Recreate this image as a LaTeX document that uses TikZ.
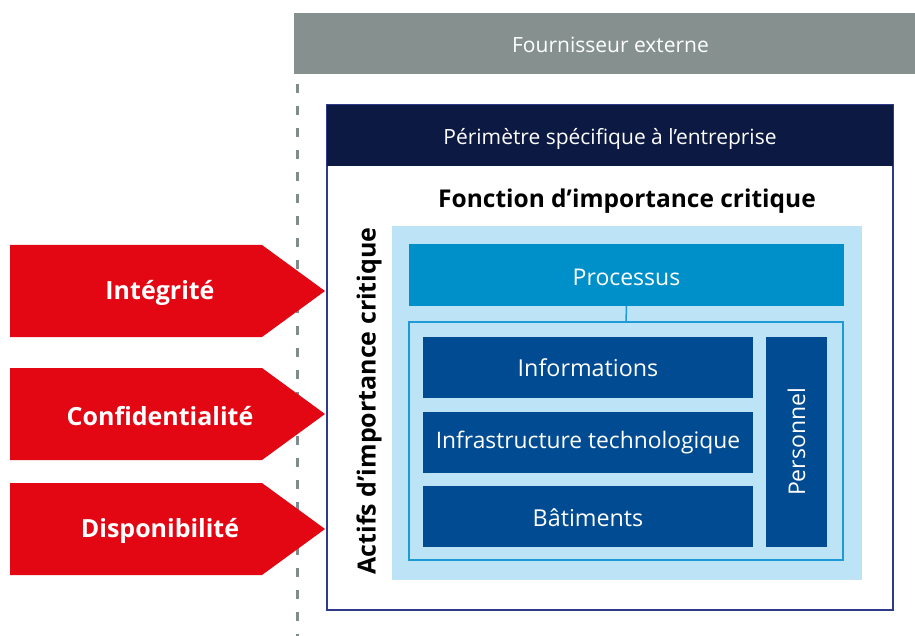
\documentclass[tikz,border=0pt]{standalone}
\usepackage{fontspec}
\setmainfont{Open Sans}
\definecolor{greybar}{HTML}{86918F}
\definecolor{navy}{HTML}{0C1943}
\definecolor{navyline}{HTML}{2E3A8C}
\definecolor{lightblue}{HTML}{BDE3F7}
\definecolor{procblue}{HTML}{0090C9}
\definecolor{outlineblue}{HTML}{1E9BD7}
\definecolor{darkblue}{HTML}{004B91}
\definecolor{redarrow}{HTML}{E30613}
\definecolor{dashgrey}{HTML}{7F8C8A}
\tikzset{
  boxbase/.style={rectangle, inner sep=0pt, outer sep=0pt, anchor=north west},
  filledbox/.style={boxbase, fill=#1, text=white, font=\fontsize{21}{25}\selectfont},
  assetbox/.style={filledbox=darkblue, minimum width=330pt, minimum height=61pt, font=\fontsize{23.3}{28}\selectfont},
  arrowlabel/.style={text=white, font=\bfseries\fontsize{25}{30}\selectfont},
}
\begin{document}
\begin{tikzpicture}[x=1pt,y=-1pt]
\useasboundingbox (0,0) rectangle (915,636);
% external supplier bar
\node[filledbox=greybar, minimum width=621pt, minimum height=61pt] (supplier) at (294,13) {};
\node[text=white, font=\fontsize{21}{25}\selectfont] (supplierlabel) at ([xshift=6pt,yshift=-1pt]supplier.center) {Fournisseur externe};
% dashed separator
\coordinate (dashtop) at (297,84);
\coordinate (dashbot) at (297,636);
\draw[dashgrey, line width=3pt, dash pattern=on 9pt off 13pt] (dashtop) -- (dashbot);
% outer perimeter box
\node[boxbase, draw=navyline, line width=2pt, fill=white, minimum width=566pt, minimum height=505pt] (perimeter) at (327,105) {};
\node[filledbox=navy, minimum width=566pt, minimum height=61pt] (perimhead) at (327,105) {};
\node[text=white, font=\fontsize{21}{25}\selectfont] (perimlabel) at ([yshift=-3pt]perimhead.center) {Périmètre spécifique à l’entreprise};
% title
\node[font=\bfseries\fontsize{24.5}{29}\selectfont] (fonction) at (627,201) {Fonction d’importance critique};
% light blue area
\node[boxbase, fill=lightblue, minimum width=470pt, minimum height=354pt] (assetarea) at (392,226) {};
\node[filledbox=procblue, minimum width=435pt, minimum height=62pt] (processus) at (409,244) {};
\node[text=white, font=\fontsize{23}{28}\selectfont] (proclabel) at ([yshift=-2pt]processus.center) {Processus};
\node[boxbase, draw=outlineblue, line width=1.5pt, minimum width=434pt, minimum height=238pt] (inner) at (409,322) {};
\draw[outlineblue, line width=1.5pt] (processus.south) -- (inner.north);
\node[assetbox] (infos) at (423,337) {Informations};
\node[assetbox, font=\fontsize{22.8}{28}\selectfont] (infra) at (423,412) {Infrastructure technologique};
\node[assetbox] (batiments) at (423,486) {};
\node[text=white, font=\fontsize{23.3}{28}\selectfont] (batlabel) at ([yshift=-1pt]batiments.center) {Bâtiments};
\node[filledbox=darkblue, minimum width=61pt, minimum height=210pt] (personnelbox) at (766,337) {};
\node[rotate=90, text=white, font=\fontsize{23}{28}\selectfont] (personnel) at (personnelbox.center) {Personnel};
% vertical label
\node[rotate=90, font=\bfseries\fontsize{25}{30}\selectfont] (actifs) at (369,401) {Actifs d’importance critique};
% red arrows
\foreach \name/\cy/\txt in {integ/291/Intégrité, confid/414/Confidentialité, dispo/529/Disponibilité}{
  \fill[redarrow] (10,\cy-46) -- (262,\cy-46) -- (325,\cy) -- (262,\cy+46) -- (10,\cy+46) -- cycle;
  \node[arrowlabel] (\name) at (160,\cy+2) {\txt};
}
\end{tikzpicture}
\end{document}
